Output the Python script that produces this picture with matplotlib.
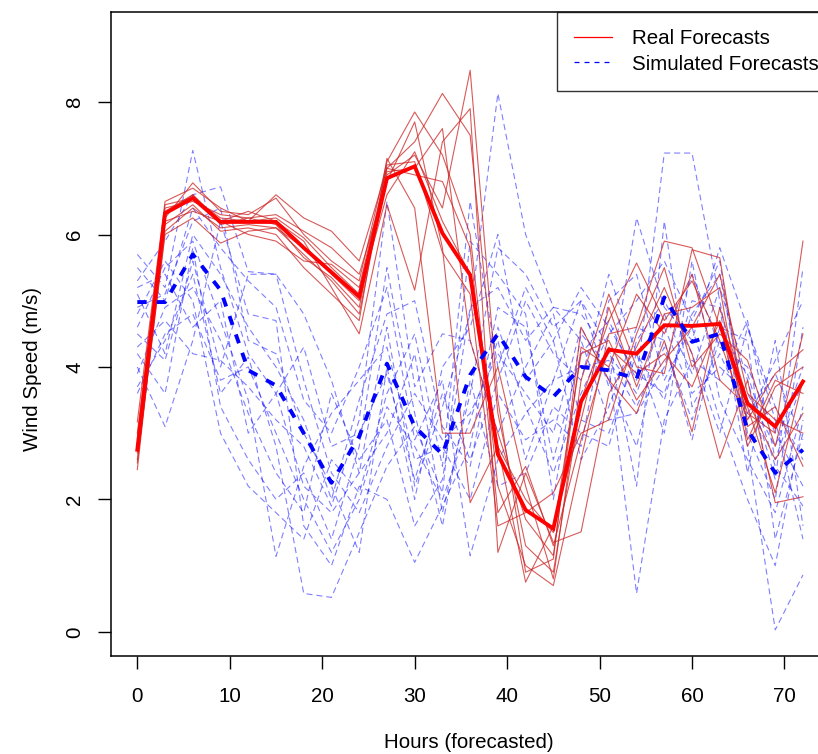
import matplotlib
matplotlib.use("Agg")
import matplotlib.pyplot as plt
from matplotlib.lines import Line2D

plt.rcParams["font.family"] = ["Liberation Sans", "DejaVu Sans"]

# forecast horizon (hours)
hours = [0, 3, 6, 9, 12, 15, 18, 21, 24, 27, 30, 33, 36, 39, 42, 45, 48, 51, 54, 57, 60, 63, 66, 69, 72]

# real forecast members (m/s)
real_forecasts = [
    [2.45, 6.25, 6.78, 6.35, 6.30, 6.55, 6.00, 5.60, 5.30, 7.10, 7.85, 7.20, 6.00, 2.20, 1.00, 0.70, 2.60, 4.50, 4.60, 5.90, 5.80, 4.60, 3.30, 3.00, 5.90],
    [3.17, 6.50, 6.70, 6.40, 6.20, 6.60, 6.25, 6.05, 5.60, 7.00, 7.40, 8.13, 7.50, 3.30, 1.30, 0.90, 3.50, 4.70, 5.57, 4.70, 5.30, 4.40, 3.20, 3.90, 4.26],
    [2.60, 6.00, 6.25, 5.87, 6.05, 6.10, 5.70, 5.30, 4.80, 6.90, 7.20, 6.40, 8.48, 3.50, 0.90, 1.10, 4.60, 3.80, 3.30, 4.40, 3.02, 4.90, 3.50, 2.60, 3.30],
    [2.90, 6.35, 6.60, 6.20, 6.35, 6.20, 5.90, 5.20, 4.50, 6.45, 5.16, 7.40, 7.90, 1.20, 2.40, 1.35, 1.51, 3.60, 4.30, 5.20, 4.20, 2.62, 3.80, 1.95, 2.04],
    [2.70, 6.15, 6.45, 6.05, 6.10, 6.00, 5.50, 5.10, 4.70, 7.15, 6.40, 3.00, 3.00, 4.00, 2.20, 0.80, 3.80, 5.10, 4.00, 3.90, 5.77, 5.65, 3.10, 3.40, 2.50],
    [2.80, 6.40, 6.50, 6.30, 6.25, 6.30, 6.05, 5.80, 5.40, 6.80, 7.70, 5.80, 1.95, 2.80, 0.75, 1.60, 3.20, 4.90, 3.70, 4.80, 4.90, 5.20, 2.90, 3.80, 3.60],
    [2.55, 6.05, 6.40, 6.10, 6.15, 6.10, 5.80, 5.40, 5.00, 7.05, 7.10, 5.73, 5.10, 1.60, 1.80, 2.10, 3.00, 3.20, 4.50, 5.50, 4.00, 4.50, 4.10, 2.80, 4.50],
    [3.00, 6.45, 6.55, 6.25, 6.20, 6.25, 5.95, 5.50, 5.10, 6.60, 7.25, 6.20, 5.40, 2.80, 2.00, 1.50, 4.20, 4.40, 3.50, 4.10, 4.60, 5.40, 3.60, 3.20, 3.00],
    [2.75, 6.30, 6.60, 6.15, 6.25, 6.15, 5.65, 5.35, 4.90, 6.95, 7.00, 7.60, 4.40, 3.00, 1.70, 1.15, 4.30, 4.00, 5.10, 4.50, 5.40, 3.80, 3.40, 2.10, 3.80],
    [2.85, 6.20, 6.35, 6.20, 6.00, 5.90, 5.60, 5.55, 5.20, 7.00, 6.90, 6.80, 5.80, 1.80, 2.50, 1.30, 2.90, 4.30, 3.90, 4.20, 3.70, 4.70, 2.80, 3.70, 4.00],
]
real_mean = [2.75, 6.32, 6.55, 6.19, 6.19, 6.19, 5.80, 5.43, 5.06, 6.85, 7.03, 6.02, 5.39, 2.68, 1.84, 1.56, 3.48, 4.26, 4.20, 4.63, 4.62, 4.65, 3.45, 3.10, 3.78]

# simulated forecast members (m/s)
sim_forecasts = [
    [5.70, 5.20, 7.27, 5.50, 4.20, 3.60, 2.20, 1.80, 2.40, 4.60, 2.20, 3.40, 4.80, 8.13, 6.00, 4.90, 4.80, 4.20, 3.60, 4.80, 3.90, 5.20, 3.80, 2.30, 5.50],
    [5.30, 5.90, 6.60, 6.72, 5.44, 5.40, 4.80, 3.80, 2.40, 3.00, 4.20, 1.80, 3.60, 5.80, 5.40, 4.60, 5.00, 3.70, 6.25, 4.90, 4.40, 5.80, 4.60, 3.20, 1.40],
    [4.00, 3.10, 4.40, 6.20, 4.80, 4.70, 1.60, 1.00, 2.20, 2.00, 1.05, 1.90, 2.80, 4.90, 4.60, 2.60, 4.20, 4.70, 3.80, 7.23, 7.23, 5.00, 2.80, 0.03, 0.86],
    [4.60, 5.50, 5.90, 4.70, 3.50, 1.14, 2.50, 3.30, 3.80, 4.30, 2.60, 2.80, 2.00, 3.60, 2.90, 3.20, 2.80, 5.00, 5.40, 3.80, 4.60, 3.20, 2.00, 1.00, 3.20],
    [3.70, 4.40, 5.40, 3.60, 4.15, 2.80, 0.58, 0.52, 1.50, 2.50, 3.10, 2.10, 5.90, 5.40, 4.80, 2.00, 4.50, 4.00, 0.58, 3.20, 4.10, 3.80, 4.70, 2.60, 3.80],
    [5.50, 5.00, 6.40, 5.80, 5.30, 4.90, 3.50, 3.00, 4.00, 5.20, 2.90, 3.80, 1.15, 2.60, 3.30, 3.80, 5.00, 4.30, 2.20, 6.20, 3.40, 4.20, 3.30, 3.90, 2.90],
    [4.30, 4.70, 4.20, 4.10, 3.70, 3.20, 2.80, 1.90, 3.20, 6.50, 3.70, 4.50, 4.40, 3.00, 4.00, 4.80, 3.20, 3.00, 4.20, 3.50, 5.00, 4.90, 2.40, 4.40, 1.60],
    [4.80, 5.60, 5.00, 3.00, 2.20, 1.80, 1.40, 2.60, 2.10, 3.60, 4.50, 2.50, 6.50, 4.00, 5.20, 4.40, 2.60, 3.40, 4.60, 4.40, 2.90, 4.60, 4.40, 1.40, 3.00],
    [5.10, 4.20, 6.00, 5.40, 4.60, 4.00, 3.20, 2.00, 3.50, 4.80, 5.00, 3.10, 2.50, 4.60, 3.40, 2.40, 3.60, 4.50, 5.00, 5.60, 4.70, 5.60, 3.00, 2.00, 4.60],
    [3.90, 4.90, 5.20, 4.40, 3.30, 2.40, 1.80, 3.60, 2.60, 3.20, 1.60, 2.30, 4.90, 5.20, 4.40, 4.90, 4.40, 3.20, 3.30, 4.00, 5.40, 4.30, 4.00, 3.00, 2.20],
    [4.50, 4.10, 5.60, 4.00, 5.40, 5.40, 3.80, 2.40, 1.80, 2.80, 3.60, 2.90, 3.30, 4.20, 3.60, 3.00, 4.60, 3.80, 2.80, 4.60, 3.60, 4.00, 3.60, 2.80, 4.00],
    [5.20, 5.40, 4.60, 5.00, 3.00, 3.60, 4.30, 2.80, 3.00, 3.90, 2.30, 3.60, 2.60, 3.80, 5.00, 4.20, 3.80, 5.40, 4.20, 3.00, 5.60, 3.50, 2.60, 1.80, 3.40],
    [4.20, 3.60, 5.80, 3.40, 2.60, 2.00, 2.40, 1.40, 2.80, 5.50, 3.30, 1.60, 3.80, 2.20, 2.40, 3.40, 3.00, 2.80, 4.40, 5.00, 4.20, 3.00, 4.60, 3.40, 2.60],
    [4.90, 5.10, 6.20, 6.40, 4.40, 4.20, 3.00, 2.20, 1.20, 4.00, 2.00, 4.00, 4.60, 6.00, 3.80, 4.40, 5.20, 4.60, 3.90, 3.60, 4.80, 5.40, 3.20, 4.10, 5.00],
    [3.60, 4.50, 4.80, 3.80, 4.00, 3.00, 2.00, 1.20, 2.00, 3.40, 2.80, 2.00, 3.20, 4.40, 2.60, 3.80, 4.00, 4.10, 3.40, 4.30, 3.20, 4.40, 3.90, 2.50, 1.90],
]
sim_mean = [4.98, 4.98, 5.70, 5.16, 3.95, 3.72, 3.00, 2.25, 2.95, 4.05, 3.10, 2.68, 3.88, 4.50, 3.85, 3.55, 4.00, 3.95, 3.82, 5.05, 4.38, 4.50, 3.05, 2.40, 2.75]

legend_labels = ["Real Forecasts", "Simulated Forecasts"]

W, H = 818, 754
fig = plt.figure(figsize=(W / 100, H / 100), dpi=100)
# the plot box runs past the right edge of the picture, like the reference
left, right, top, bottom = 110.7, 829.6, 12.0, 655.7
ax = fig.add_axes([left / W, 1 - bottom / H, (right - left) / W, (bottom - top) / H])

for series in sim_forecasts:
    ax.plot(hours, series, color="blue", alpha=0.5, lw=0.8, dashes=(5.5, 3.5))
for series in real_forecasts:
    ax.plot(hours, series, color="#cc2222", alpha=0.75, lw=0.8)
ax.plot(hours, real_mean, color="red", lw=2.8, solid_joinstyle="miter")
ax.plot(hours, sim_mean, color="blue", lw=2.8, dashes=(2.4, 2.6))

ax.set_xlim(-2.88, 74.88)
ax.set_ylim(-0.36, 9.36)
ax.set_xticks(range(0, 71, 10))
ax.set_yticks(range(0, 9, 2))

for s in ax.spines.values():
    s.set_linewidth(1.1)
ax.tick_params(axis="both", direction="out", length=9.4, width=1.0, labelsize=14.8)
ax.tick_params(axis="x", pad=13.2)
ax.tick_params(axis="y", pad=9.5)
plt.setp(ax.get_yticklabels(), rotation=90, va="center")

ax.set_xlabel("Hours (forecasted)", fontsize=14.8)
ax.xaxis.set_label_coords((469 - left) / (right - left), -(733.5 - bottom) / (bottom - top))
ax.set_ylabel("Wind Speed (m/s)", fontsize=14.8)
ax.yaxis.set_label_coords((41.5 - left) / (right - left), (bottom - 369) / (bottom - top))

handles = [
    Line2D([], [], color="red", lw=0.9),
    Line2D([], [], color="blue", lw=0.9, dashes=(4, 4)),
]
leg = fig.legend(handles, legend_labels, loc="upper left",
                 bbox_to_anchor=(557 / W, 1 - 12 / H), bbox_transform=fig.transFigure,
                 borderaxespad=0, fontsize=14.8, frameon=True, fancybox=False,
                 borderpad=0.85, handlelength=1.83, handletextpad=0.97, labelspacing=0.3)
leg.get_frame().set_edgecolor("black")
leg.get_frame().set_linewidth(1.0)

fig.savefig("out.png", dpi=100)
